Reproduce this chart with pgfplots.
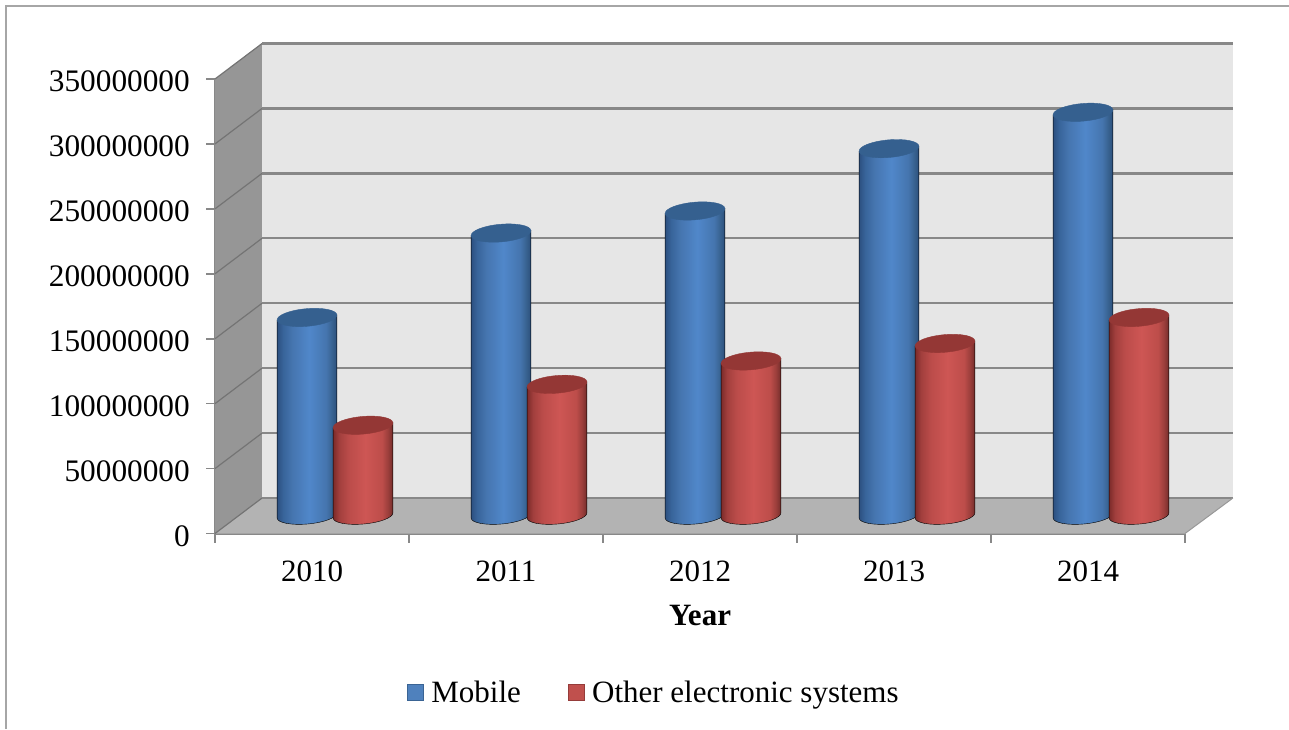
\documentclass[border=0pt]{standalone}
\usepackage{fontspec}
\setmainfont{Liberation Serif}
\usepackage{pgfplots}
\usepackage{pgfplotstable}
\pgfplotsset{compat=1.18}

\definecolor{backwall}{HTML}{E6E6E6}
\definecolor{sidewall}{HTML}{969696}
\definecolor{floorgrey}{HTML}{B3B3B3}
\definecolor{gridgrey}{HTML}{888888}
\definecolor{framegrey}{HTML}{A6A6A6}
\definecolor{capblue}{HTML}{35608F}
\definecolor{capred}{HTML}{943735}
\definecolor{keyblue}{HTML}{4F81BD}
\definecolor{keyblueedge}{HTML}{3A6494}
\definecolor{keyred}{HTML}{C0504D}
\definecolor{keyrededge}{HTML}{953C3A}

\definecolor{bla}{HTML}{2C5080}
\definecolor{blb}{HTML}{38649A}
\definecolor{blc}{HTML}{4676B0}
\definecolor{bld}{HTML}{5087CA}
\definecolor{ble}{HTML}{4575AE}
\definecolor{blf}{HTML}{386290}
\definecolor{blg}{HTML}{2C4F7C}
\definecolor{rea}{HTML}{7C2B2A}
\definecolor{reb}{HTML}{A23F3D}
\definecolor{rec}{HTML}{BB4C4A}
\definecolor{red}{HTML}{CE5654}
\definecolor{ree}{HTML}{BD4D4A}
\definecolor{ref}{HTML}{9A3E3B}
\definecolor{reg}{HTML}{742D2B}

% Horizontal cylinder shadings; a path's extent covers the range 25bp to 75bp.
\pgfdeclarehorizontalshading{cylblue}{100bp}{
  color(0bp)=(bla);color(25bp)=(bla);color(30bp)=(blb);
  color(38bp)=(blc);color(52bp)=(bld);color(66bp)=(ble);
  color(71bp)=(blf);color(75bp)=(blg);color(100bp)=(blg)}
\pgfdeclarehorizontalshading{cylred}{100bp}{
  color(0bp)=(rea);color(25bp)=(rea);color(30bp)=(reb);
  color(38bp)=(rec);color(52bp)=(red);color(66bp)=(ree);
  color(71bp)=(ref);color(75bp)=(reg);color(100bp)=(reg)}

\pgfdeclareplotmark{void}{}

% Draws one cylinder whose cap sits at the data point; the height comes from the y value.
\newcommand\cylinderbody[3]{%
  \begingroup
    \pgfkeys{/pgf/fpu=true,/pgf/fpu/output format=fixed}%
    \pgfmathparse{\vraw*1.2986e-6}%
    \xdef\cylh{\pgfmathresult}%
  \endgroup
  \pgfscope
    \pgftransformshift{\pgfpoint{#1pt}{18pt-\cylh pt}}%
    \shade[shading=#2]
      (-29.9pt,-2.6pt)
      .. controls (-29.49pt,-7.28pt) and (-15.76pt,-9.91pt) .. (0.74pt,-8.47pt)
      .. controls (17.24pt,-7.03pt) and (29.9pt,-2.08pt) .. (29.9pt,2.6pt)
      -- (29.9pt,{\cylh pt+2.6pt}) -- (-29.9pt,{\cylh pt-2.6pt}) -- cycle;
    \pgfscope
      \pgftransformshift{\pgfpoint{0pt}{\cylh pt}}%
      \pgftransformrotate{5}%
      \fill[#3] (0,0) ellipse [x radius=30pt,y radius=8.8pt];
    \endpgfscope
  \endpgfscope
}

\pgfplotstableread{
pos  mobile     other
0.5  152500000  69500000
1.5  217500000  101000000
2.5  234500000  119000000
3.5  282500000  132500000
4.5  310500000  152500000
}\salesdata

\newcommand\chartfont{\fontsize{31}{37}\selectfont}

\begin{document}
\begin{tikzpicture}[x=1pt,y=1pt]
  \useasboundingbox (0,0) rectangle (1289,729);
  \draw[framegrey,line width=2pt] (5.5,0) -- (5.5,723) -- (1289,723);
  \begin{axis}[
    at={(215pt,195.5pt)},anchor=south west,
    scale only axis,width=970pt,height=454.5pt,
    clip=false,
    xmin=0,xmax=5,ymin=0,ymax=350000000,
    axis lines=left,
    axis line style={-,draw=gridgrey,line width=2pt},
    xtick={0,1,2,3,4,5},
    x tick label as interval,
    xticklabels={2010,2011,2012,2013,2014},
    ytick={0,50000000,100000000,150000000,200000000,250000000,300000000,350000000},
    scaled y ticks=false,
    tick align=outside,
    major tick length=9pt,
    tick style={draw=gridgrey,line width=1.6pt},
    tick label style={font=\chartfont},
    /pgf/number format/assume math mode=true,
    yticklabel style={font=\fontsize{31.3}{37}\selectfont,/pgf/number format/fixed,/pgf/number format/1000 sep={},inner sep=0pt,xshift=-16pt,yshift=-2.3pt},
    xticklabel style={yshift=-15pt},
    xlabel={Year},
    xlabel style={font=\chartfont\bfseries,yshift=-16pt},
    legend style={
      at={(0.4525,-0.35)},anchor=center,draw=none,fill=none,font=\chartfont,
      legend columns=2,
      /tikz/every odd column/.append style={column sep=5pt},
      /tikz/every even column/.append style={column sep=45pt}},
    legend cell align=left,
  ]
    % side wall, back wall and floor
    \addplot[fill=sidewall,draw=none,forget plot] coordinates
      {(0,0) (0.2423,27300000) (0.2423,377300000) (0,350000000)} -- cycle;
    \addplot[fill=backwall,draw=none,forget plot] coordinates
      {(0.2423,27300000) (5.247,27300000) (5.247,377300000) (0.2423,377300000)} -- cycle;
    \addplot[fill=floorgrey,draw=none,forget plot] coordinates
      {(0,0) (0.2423,27300000) (5.247,27300000) (5,0)} -- cycle;

    % gridlines on the side wall
    \addplot[draw=gridgrey!85!black,line width=1.2pt,forget plot,unbounded coords=jump] coordinates {
      (0,0) (0.2423,27300000) (nan,nan)
      (0,50000000) (0.2423,77300000) (nan,nan)
      (0,100000000) (0.2423,127300000) (nan,nan)
      (0,150000000) (0.2423,177300000) (nan,nan)
      (0,200000000) (0.2423,227300000) (nan,nan)
      (0,250000000) (0.2423,277300000) (nan,nan)
      (0,300000000) (0.2423,327300000) (nan,nan)
      (0,350000000) (0.2423,377300000)};
    % gridlines on the back wall
    \addplot[draw=gridgrey,line width=2.2pt,forget plot,unbounded coords=jump] coordinates {
      (0.2423,27300000) (5.247,27300000) (nan,nan)
      (0.2423,77300000) (5.247,77300000) (nan,nan)
      (0.2423,127300000) (5.247,127300000) (nan,nan)
      (0.2423,177300000) (5.247,177300000) (nan,nan)
      (0.2423,227300000) (5.247,227300000) (nan,nan)
      (0.2423,277300000) (5.247,277300000) (nan,nan)
      (0.2423,327300000) (5.247,327300000) (nan,nan)
      (0.2423,377300000) (5.247,377300000)};
    % floor edge to the right
    \addplot[draw=floorgrey!85!black,line width=1pt,forget plot] coordinates
      {(5,0) (5.247,27300000)};

    % cylinders, one series after the other
    \addplot[scatter,only marks,mark=void,forget plot,
      visualization depends on={rawy \as \vraw},
      scatter/@pre marker code/.code={\cylinderbody{-5}{cylblue}{capblue}},
      scatter/@post marker code/.code={}]
      table[x=pos,y=mobile] {\salesdata};
    \addplot[scatter,only marks,mark=void,forget plot,
      visualization depends on={rawy \as \vraw},
      scatter/@pre marker code/.code={\cylinderbody{51}{cylred}{capred}},
      scatter/@post marker code/.code={}]
      table[x=pos,y=other] {\salesdata};

    \addlegendimage{legend image code/.code={
      \filldraw[draw=keyblueedge,fill=keyblue,line width=1.2pt] (0pt,-8pt) rectangle (16pt,8pt);}}
    \addlegendentry{Mobile}
    \addlegendimage{legend image code/.code={
      \filldraw[draw=keyrededge,fill=keyred,line width=1.2pt] (0pt,-8pt) rectangle (16pt,8pt);}}
    \addlegendentry{Other electronic systems}
  \end{axis}
\end{tikzpicture}
\end{document}
